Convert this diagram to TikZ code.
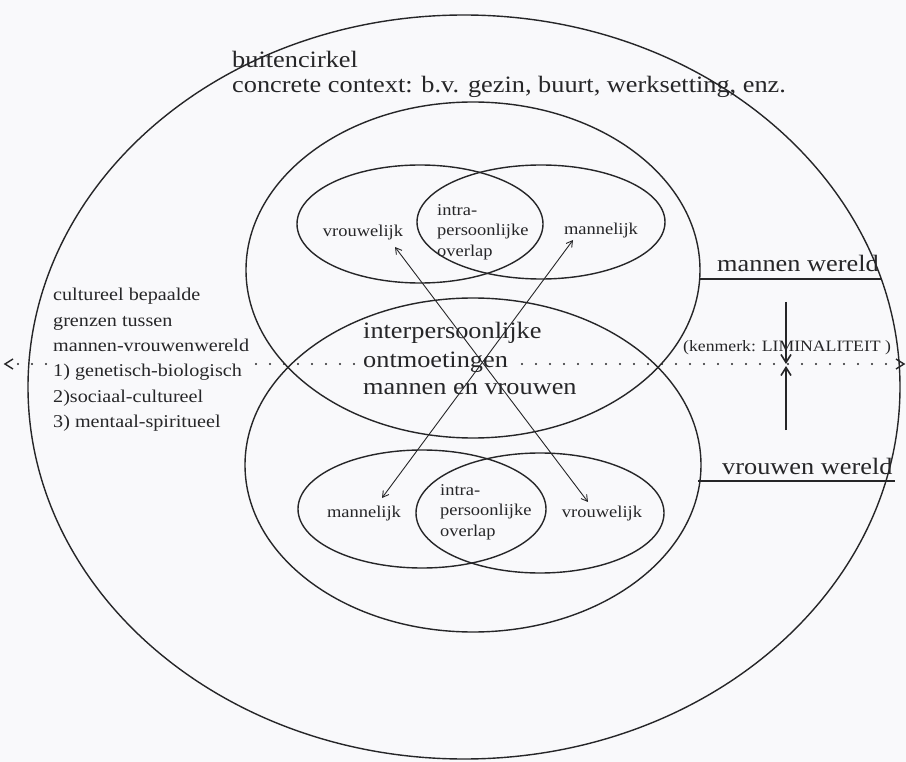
\documentclass[tikz,border=0pt]{standalone}
\usepackage{fontspec}
\setmainfont{Liberation Serif}[FakeStretch=1.12]
\usetikzlibrary{arrows.meta}
\definecolor{ink}{RGB}{38,38,40}
\definecolor{paper}{RGB}{249,249,251}
\begin{document}
\begin{tikzpicture}[x=1pt,y=-1pt,
  every node/.style={inner sep=0pt, text=ink},
  ring/.style={draw=ink, line width=1.4pt},
  bigtxt/.style={font=\fontsize{23.5}{25}\selectfont},
  midtxt/.style={font=\fontsize{18}{25.4}\selectfont},
  smalltxt/.style={font=\fontsize{16.5}{20.5}\selectfont, align=left},
  kentxt/.style={font=\fontsize{15.8}{18}\selectfont},
  gap/.style={fill=paper, inner xsep=3pt, inner ysep=3pt},
  dbl/.style={draw=ink, line width=0.9pt, {Straight Barb[length=6pt,width=7pt]}-{Straight Barb[length=6pt,width=7pt]}},
  vert/.style={draw=ink, line width=1.6pt, -{Straight Barb[length=8pt,width=10pt]}},
  dots/.style={draw=ink, line width=2.2pt, line cap=round, dash pattern=on 0pt off 14pt},
  uline/.style={draw=ink, line width=1.7pt},
  chev/.style={draw=ink, line width=1.4pt},
]
\fill[paper] (0,0) rectangle (906,762);
\useasboundingbox (0,0) rectangle (906,762);

% dotted boundary line
\coordinate (dl) at (18,364);
\coordinate (dr) at (892,364);
\draw[dots] (dl) -- (dr);
\draw[chev] (13,359) -- (5,364) -- (13,369);
\draw[chev] (896,359) -- (904,364) -- (896,369);

% top texts
\node[bigtxt, anchor=base west] (t1) at (232,68) {buitencirkel};
\node[bigtxt, anchor=base west] (t2) at (232,93) {concrete context: b.v. gezin, buurt, werksetting, enz.};

% left block
\node[midtxt, anchor=base west] (g1) at (53,301) {cultureel bepaalde};
\node[midtxt, anchor=base west] (g2) at (53,326.5) {grenzen tussen};
\node[midtxt, anchor=base west] (g3) at (53,352) {mannen-vrouwenwereld};
\node[midtxt, gap, anchor=base west] (g4) at (50,377) {1) genetisch-biologisch};
\node[midtxt, anchor=base west] (g5) at (53,402.5) {2)sociaal-cultureel};
\node[midtxt, anchor=base west] (g6) at (53,428) {3) mentaal-spiritueel};

% central text
\node[bigtxt, anchor=base west] (c1) at (363,339) {interpersoonlijke};
\node[bigtxt, gap, anchor=base west] (c2) at (360,367) {ontmoetingen};
\node[bigtxt, anchor=base west] (c3) at (363,395) {mannen en vrouwen};

% right labels
\node[bigtxt, anchor=base west] (mw) at (717,272) {mannen wereld};
\node[bigtxt, anchor=base west] (vw) at (722,474) {vrouwen wereld};
\node[kentxt, anchor=base west] (ken) at (683,352) {(kenmerk: LIMINALITEIT )};

% small ellipse texts
\node[smalltxt, anchor=base] (uv) at (363,237) {vrouwelijk};
\node[smalltxt, anchor=north west] (ui) at (437,204) {intra-\\persoonlijke\\overlap};
\node[smalltxt, anchor=base] (um) at (601,235) {mannelijk};
\node[smalltxt, anchor=base] (lm) at (364,517) {mannelijk};
\node[smalltxt, anchor=north west] (li) at (440,484) {intra-\\persoonlijke\\overlap};
\node[smalltxt, anchor=base] (lv) at (602,517) {vrouwelijk};

% ellipses
\draw[ring] (464,387) ellipse [x radius=436pt, y radius=372pt];
\draw[ring] (473,270) ellipse [x radius=227pt, y radius=168pt];
\draw[ring] (473,465) ellipse [x radius=228pt, y radius=167pt];
\draw[ring] (420,224) ellipse [x radius=123pt, y radius=59pt];
\draw[ring] (541,222) ellipse [x radius=124pt, y radius=57pt];
\draw[ring] (422,509) ellipse [x radius=124pt, y radius=59pt];
\draw[ring] (540,513) ellipse [x radius=124pt, y radius=60pt];

% underlines
\coordinate (m1) at (700,279); \coordinate (m2) at (882,279);
\coordinate (w1) at (698,481); \coordinate (w2) at (895,481);
\draw[uline] (m1) -- (m2);
\draw[uline] (w1) -- (w2);

% crossing double arrows
\coordinate (a1) at (395,247); \coordinate (a2) at (588,502);
\coordinate (b1) at (573,240); \coordinate (b2) at (382,498);
\draw[dbl] (a1) -- (a2);
\draw[dbl] (b1) -- (b2);

% liminality arrows
\coordinate (v1) at (786,302); \coordinate (v2) at (786,364);
\coordinate (v3) at (786,430); \coordinate (v4) at (786,366);
\draw[vert] (v1) -- (v2);
\draw[vert] (v3) -- (v4);
\end{tikzpicture}
\end{document}
